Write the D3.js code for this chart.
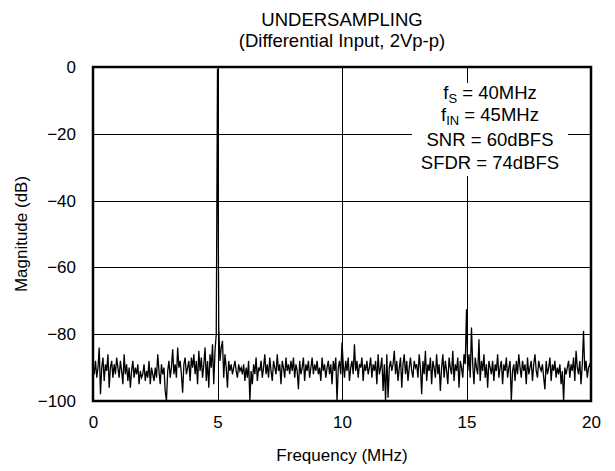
<!DOCTYPE html>
<html>
<head>
<meta charset="utf-8">
<script src="https://cdn.jsdelivr.net/npm/d3@7"></script>
<style>
  body { margin: 0; background: #fff; }
  svg { font-family: "Liberation Sans", Arial, sans-serif; }
  .lbl { font-size: 17px; fill: #000; }
  .big { font-size: 18.5px; fill: #000; }
</style>
</head>
<body>
<div class="fft_div"></div>
<script>
// FFT magnitude, one bin every 0.05 MHz from 0 to 20 MHz
var freqStep = 0.05;
var magnitude = [
  -89, -92, -88, -93, -90, -84, -98, -90, -87, -94, -89, -91, -86, -96, -90, -88, -93, -89, -92, -87,
  -90, -93, -88, -91, -95, -86, -92, -89, -94, -90, -96, -91, -88, -93, -90, -92, -89, -95, -91, -93,
  -92, -89, -94, -91, -93, -88, -95, -90, -92, -94, -90, -93, -86, -91, -95, -89, -92, -90, -97, -100,
  -91, -88, -93, -90, -84.5, -92, -89, -93, -84, -90, -88, -92, -97.5, -89, -87, -92, -90, -88, -94, -87,
  -90, -86, -92, -88, -95, -85, -91, -87, -93, -89, -84, -94, -88, -96, -86, -90, -83, -95, -85, -80,
  -0.5, -78, -88, -84, -82, -93, -86, -90, -96, -88, -91, -89, -92, -90, -88, -91, -93, -89, -91, -90,
  -92, -89, -94, -90, -93, -88, -100, -91, -95, -89, -92, -87, -94, -90, -91, -88, -93, -90, -86, -92,
  -89, -93, -87, -91, -94, -88, -90, -92, -86, -91, -89, -95, -88, -90, -93, -87, -91, -89, -92, -88,
  -91, -87, -93, -89, -91, -96.5, -88, -92, -90, -87, -94, -89, -91, -88, -93, -90, -87, -92, -89, -91,
  -88, -92, -90, -94, -87, -91, -89, -93, -90, -88, -92, -89, -95, -88, -91, -87, -100, -90, -88, -92,
  -82.5, -89, -93, -88, -91, -87, -94, -90, -88, -92, -83, -91, -88, -93, -89, -90, -87, -94, -89, -91,
  -88, -92, -90, -87, -93, -89, -91, -88, -95, -86, -92, -90, -87, -97, -89, -100, -86, -99, -90, -88,
  -91, -89, -85, -92, -88, -94, -90, -87, -96, -89, -86, -92, -88, -94, -90, -87, -91, -93, -88, -90,
  -89, -93, -86, -90, -98, -88, -92, -85, -94, -89, -91, -87, -95, -88, -90, -93, -86, -92, -89, -97,
  -90, -86, -93, -88, -91, -95, -87, -90, -92, -85, -94, -89, -91, -87, -96, -88, -90, -93, -86, -89,
  -72.5, -91, -86, -93, -78, -89, -95, -87, -90, -92, -81.5, -94, -88, -91, -86, -93, -89, -96, -88, -90,
  -92, -88, -94, -89, -91, -86, -93, -90, -88, -95, -89, -91, -87, -93, -90, -88, -100, -91, -89, -94,
  -88, -92, -86, -90, -93, -88, -91, -89, -95, -87, -92, -90, -88, -94, -89, -86, -91, -93, -88, -90,
  -91, -89, -93, -96.5, -88, -92, -90, -87, -94, -89, -91, -88, -93, -90, -92, -89, -95, -91, -100, -90,
  -92, -90, -88, -93, -89, -91, -87, -94, -85, -90, -92, -88, -95, -89, -79, -91, -88, -93, -90, -89,
  -90
];
var xTicks = [0, 5, 10, 15, 20];
var yTicks = [0, -20, -40, -60, -80, -100];
var title = ["UNDERSAMPLING", "(Differential Input, 2Vp-p)"];
var notes = [
  ["f", "S", " = 40MHz"],
  ["f", "IN", " = 45MHz"],
  ["SNR = 60dBFS", "", ""],
  ["SFDR = 74dBFS", "", ""]
];

var plotX = 93, plotY = 67, plotW = 498, plotH = 334;

var svg = d3.select(".fft_div").append("svg")
            .attr("width", 615)
            .attr("height", 471);

var x = d3.scaleLinear().domain([0, 20]).range([plotX, plotX + plotW]);
var y = d3.scaleLinear().domain([-100, 0]).range([plotY + plotH, plotY]);

// grid
svg.selectAll(".vgrid")
   .data(xTicks.slice(1, -1))
   .enter()
   .append("line")
   .attr("x1", function(d){ return Math.round(x(d)) + 0.5; })
   .attr("x2", function(d){ return Math.round(x(d)) + 0.5; })
   .attr("y1", plotY)
   .attr("y2", plotY + plotH)
   .attr("stroke", "#000")
   .attr("stroke-width", 1);

svg.selectAll(".hgrid")
   .data(yTicks.slice(1, -1))
   .enter()
   .append("line")
   .attr("x1", plotX)
   .attr("x2", plotX + plotW)
   .attr("y1", function(d){ return Math.round(y(d)) + 0.5; })
   .attr("y2", function(d){ return Math.round(y(d)) + 0.5; })
   .attr("stroke", "#000")
   .attr("stroke-width", 1);

// white box under the notes
svg.append("rect")
   .attr("x", 412).attr("y", 83)
   .attr("width", 156).attr("height", 93)
   .attr("fill", "#fff");

var notesText = svg.selectAll(".note")
   .data(notes)
   .enter()
   .append("text")
   .attr("class", "big")
   .attr("text-anchor", "middle")
   .attr("x", 490)
   .attr("y", function(d, i){ return [99, 121, 146, 169][i]; });

notesText.append("tspan").text(function(d){ return d[0]; });
notesText.append("tspan")
   .attr("dy", 4)
   .style("font-size", "13px")
   .text(function(d){ return d[1]; });
notesText.append("tspan")
   .attr("dy", function(d){ return d[1] ? -4 : 0; })
   .text(function(d){ return d[2]; });

// spectrum
var line = d3.line()
   .x(function(d, i){ return x(i * freqStep); })
   .y(function(d){ return y(d); });

svg.append("path")
   .datum(magnitude)
   .attr("d", line)
   .attr("fill", "none")
   .attr("stroke", "#000")
   .attr("stroke-width", 1.3);

// frame
svg.append("rect")
   .attr("x", plotX).attr("y", plotY)
   .attr("width", plotW).attr("height", plotH)
   .attr("fill", "none")
   .attr("stroke", "#000")
   .attr("stroke-width", 2.5);

// axes (labels only)
var xAxis = svg.append("g")
   .attr("transform", "translate(0," + (plotY + plotH) + ")")
   .call(d3.axisBottom(x).tickValues(xTicks).tickSize(0).tickPadding(15));
var yAxis = svg.append("g")
   .attr("transform", "translate(" + plotX + ",0)")
   .call(d3.axisLeft(y).tickValues(yTicks).tickSize(0).tickPadding(17));
[xAxis, yAxis].forEach(function(g){
  g.select(".domain").remove();
  g.selectAll("text").attr("class", "lbl").attr("fill", null).style("font-size", "17px");
  g.attr("font-family", null).attr("font-size", null);
});

svg.selectAll(".title")
   .data(title)
   .enter()
   .append("text")
   .attr("class", "big")
   .attr("text-anchor", "middle")
   .attr("x", plotX + plotW / 2)
   .attr("y", function(d, i){ return 26 + i * 21; })
   .text(function(d){ return d; });

svg.append("text")
   .attr("class", "lbl")
   .attr("text-anchor", "middle")
   .attr("x", plotX + plotW / 2)
   .attr("y", 461)
   .text("Frequency (MHz)");

svg.append("text")
   .attr("class", "lbl")
   .attr("text-anchor", "middle")
   .attr("transform", "translate(27," + (plotY + plotH / 2) + ") rotate(-90)")
   .text("Magnitude (dB)");
</script>
</body>
</html>
